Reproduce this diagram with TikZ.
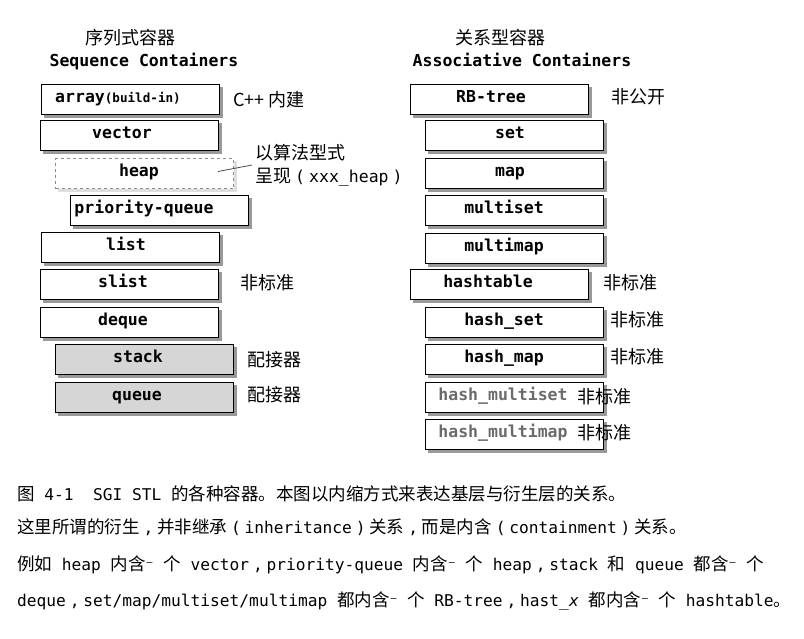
\documentclass[tikz,border=0pt]{standalone}
\usepackage{fontspec}
\newfontfamily\cjk{Noto Sans CJK SC}
\newfontfamily\mono{DejaVu Sans Mono}
\newfontfamily\dvs{DejaVu Sans}
\newcommand\capmono{\mono\fontsize{16.2}{18}\selectfont}
\newcommand\capcomma{\hbox to 17.5pt{\hss\capmono,\hss}}
\newcommand\caplp{\hbox to 17.5pt{\hss\capmono(\hss}}
\newcommand\caprp{\hbox to 17.5pt{\hss\capmono)\hss}}
\newcommand\supm{{\dvs\fontsize{15}{18}\selectfont ⁻}}
\pgfdeclarelayer{bg}
\pgfsetlayers{bg,main}
\tikzset{
  box/.style={draw=black, line width=1.3pt, fill=white, minimum width=178pt,
    minimum height=30pt, inner sep=0pt, anchor=north west},
  dbox/.style={box, draw=black!45, line width=1pt, dashed},
  gbox/.style={box, fill=black!16},
  shade/.style={fill=black!40},
  lshade/.style={fill=black!13},
  btext/.style={anchor=base, inner sep=0pt, font=\mono\bfseries\fontsize{16.5}{18}\selectfont},
  gtext/.style={btext, text=black!58},
  lbl/.style={anchor=base west, inner sep=0pt, font=\cjk\fontsize{18}{20}\selectfont},
  head/.style={anchor=base, inner sep=0pt, font=\cjk\fontsize{18}{20}\selectfont},
  mhead/.style={anchor=base, inner sep=0pt, font=\mono\bfseries\fontsize{16.5}{18}\selectfont},
  captext/.style={anchor=base west, inner sep=0pt, font=\cjk\fontsize{17.5}{20}\selectfont},
  note/.style={draw=black!70, line width=0.8pt},
}
\begin{document}
\begin{tikzpicture}[x=1pt, y=-1pt]
\useasboundingbox (0,0) rectangle (804,638);
% headers
\node[head] (h1) at (130,44) {序列式容器};
\node[mhead] (h2) at (144,66) {Sequence Containers};
\node[head] (h3) at (500,44) {关系型容器};
\node[mhead] (h4) at (522,66) {Associative Containers};
% left column
\node[box] (array) at (41,84) {};
\node[box] (vector) at (40,120) {};
\node[dbox] (heap) at (55,158) {};
\node[box] (pq) at (70,195) {};
\node[box] (list) at (41,232) {};
\node[box] (slist) at (40,269) {};
\node[box] (deque) at (40,307) {};
\node[gbox] (stack) at (55,344) {};
\node[gbox] (queue) at (55,382) {};
\node[btext] (array-t) at (118,102) {array{\fontsize{12.6}{14}\selectfont(build-in)}};
\node[btext] (vector-t) at (122,138) {vector};
\node[btext] (heap-t) at (139,176) {heap};
\node[btext] (pq-t) at (144,213) {priority-queue};
\node[btext] (list-t) at (126,250) {list};
\node[btext] (slist-t) at (123,287) {slist};
\node[btext] (deque-t) at (123,325) {deque};
\node[btext] (stack-t) at (138,362) {stack};
\node[btext] (queue-t) at (137,400) {queue};
% right column
\node[box] (rb) at (410,84) {};
\node[box] (set) at (425,120) {};
\node[box] (map) at (425,158) {};
\node[box] (mset) at (425,195) {};
\node[box] (mmap) at (425,233) {};
\node[box] (ht) at (410,269) {};
\node[box] (hset) at (425,307) {};
\node[box] (hmap) at (425,344) {};
\node[box] (hmset) at (425,382) {};
\node[box] (hmmap) at (425,419) {};
\node[btext] (rb-t) at (491,102) {RB-tree};
\node[btext] (set-t) at (510,138) {set};
\node[btext] (map-t) at (510,176) {map};
\node[btext] (mset-t) at (504,213) {multiset};
\node[btext] (mmap-t) at (504,251) {multimap};
\node[btext] (ht-t) at (488,287) {hashtable};
\node[btext] (hset-t) at (504,325) {hash\_set};
\node[btext] (hmap-t) at (504,362) {hash\_map};
\node[gtext] (hmset-t) at (503,400) {hash\_multiset};
\node[gtext] (hmmap-t) at (503,437) {hash\_multimap};
% drop shadows
\begin{pgfonlayer}{bg}
\foreach \n in {array,vector,pq,list,slist,deque,stack,queue,rb,set,map,mset,mmap,ht,hset,hmap,hmset,hmmap}
  \fill[shade] ([xshift=3pt,yshift=-3pt]\n.south west) rectangle ([xshift=3pt,yshift=-3pt]\n.north east);
\fill[lshade] ([xshift=3pt,yshift=-3pt]heap.south west) rectangle ([xshift=3pt,yshift=-3pt]heap.north east);
\end{pgfonlayer}
% labels
\node[lbl] (l-array) at (233,106) {C++ 内建};
\node[lbl] (l-heap1) at (255,159) {以算法型式};
\node[lbl] (l-heap2) at (255,182) {呈现{\mono\fontsize{16.5}{18}\selectfont\hbox to 18pt{\hss(\hss}xxx\_heap\hbox to 18pt{\hss)\hss}}};
\coordinate (heapnote) at (252,165);
\draw[note] ([xshift=-16pt,yshift=2pt]heap.east) -- (heapnote);
\node[lbl] (l-slist) at (240,289) {非标准};
\node[lbl] (l-stack) at (247,366) {配接器};
\node[lbl] (l-queue) at (247,401) {配接器};
\node[lbl] (l-rb) at (611,103) {非公开};
\node[lbl] (l-ht) at (603,289) {非标准};
\node[lbl] (l-hset) at (610,326) {非标准};
\node[lbl] (l-hmap) at (610,363) {非标准};
\node[lbl] (l-hmset) at (577,403) {非标准};
\node[lbl] (l-hmmap) at (577,439) {非标准};
% caption
\node[captext] (c1) at (17,500) {图{\capmono\ 4-1\ \ SGI STL\ }的各种容器。本图以内缩方式来表达基层与衍生层的关系。};
\node[captext] (c2) at (17,533) {这里所谓的衍生\capcomma 并非继承\caplp{\capmono inheritance}\caprp 关系\capcomma 而是内含\caplp{\capmono containment}\caprp 关系。};
\node[captext] (c3) at (17,570) {例如{\capmono\ heap\ }内含\supm{\capmono\ }个{\capmono\ vector}\capcomma{\capmono priority-queue\ }内含\supm{\capmono\ }个{\capmono\ heap}\capcomma{\capmono stack\ }和{\capmono\ queue\ }都含\supm{\capmono\ }个};
\node[captext] (c4) at (17,606) {{\capmono deque}\capcomma{\capmono set/map/multiset/multimap\ }都内含\supm{\capmono\ }个{\capmono\ RB-tree}\capcomma{\capmono hast\_{\itshape x}\ }都内含\supm{\capmono\ }个{\capmono\ hashtable}。};
\end{tikzpicture}
\end{document}
